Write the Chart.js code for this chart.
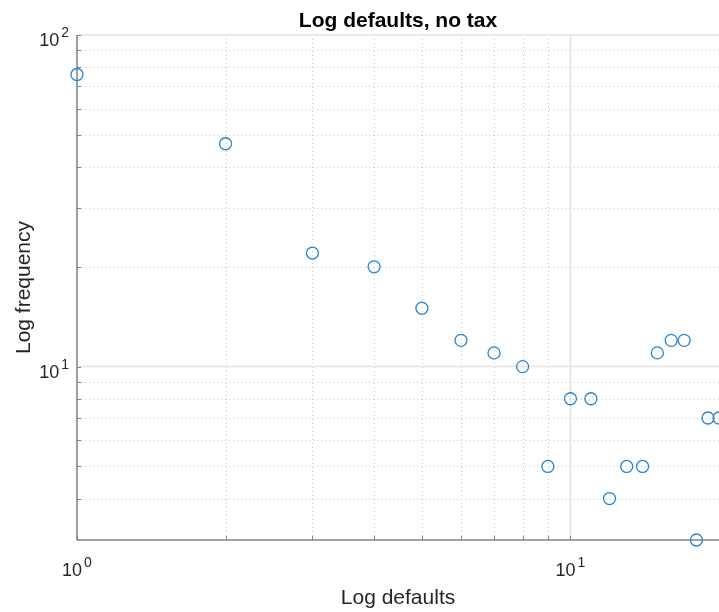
<!DOCTYPE html>
<html>
<head>
<meta charset="utf-8">
<script src="https://cdn.jsdelivr.net/npm/chart.js@4"></script>
<style>
  body { margin: 0; background: #fff; }
  canvas { display: block; }
</style>
</head>
<body>
<canvas id="chart" width="719" height="612"></canvas>
<script>
const defaults = [1, 2, 3, 4, 5, 6, 7, 8, 9, 10, 11, 12, 13, 14, 15, 16, 17, 18, 19, 20];
const frequency = [76, 47, 22, 20, 15, 12, 11, 10, 5, 8, 8, 4, 5, 5, 11, 12, 12, 3, 7, 7];

const xMinorTicks = [2, 3, 4, 5, 6, 7, 8, 9, 20];
const xMajorTicks = [1, 10];
const yMinorTicks = [4, 5, 6, 7, 8, 9, 20, 30, 40, 50, 60, 70, 80, 90];
const yMajorTicks = [10, 100];
const xTickLabels = [{ value: 1, exp: "0" }, { value: 10, exp: "1" }];
const yTickLabels = [{ value: 10, exp: "1" }, { value: 100, exp: "2" }];

const textColor = "#262626";
const fontFamily = "'Liberation Sans', Arial, Helvetica, sans-serif";

// draw a "10^n" label, anchor is "center" (x axis) or "right" (y axis)
function drawPowerLabel(ctx, exp, x, baseline, anchor) {
  ctx.font = "18px " + fontFamily;
  const baseW = ctx.measureText("10").width;
  ctx.font = "14px " + fontFamily;
  const expW = ctx.measureText(exp).width;
  const gap = 2;
  const total = baseW + gap + expW;
  const left = anchor === "center" ? x - total / 2 : x - total;
  ctx.textAlign = "left";
  ctx.textBaseline = "alphabetic";
  ctx.fillStyle = textColor;
  ctx.font = "18px " + fontFamily;
  ctx.fillText("10", left, baseline);
  ctx.font = "14px " + fontFamily;
  ctx.fillText(exp, left + baseW + gap, baseline - 9);
}

const matlabAxes = {
  id: "matlabAxes",
  beforeDatasetsDraw(chart) {
    const { ctx, chartArea: a, scales } = chart;
    const xs = scales.x, ys = scales.y;
    ctx.save();

    // minor grid, dotted
    ctx.strokeStyle = "#cacaca";
    ctx.lineWidth = 1;
    ctx.setLineDash([1, 3]);
    xMinorTicks.forEach((v) => {
      const px = Math.round(xs.getPixelForValue(v)) + 0.5;
      ctx.beginPath(); ctx.moveTo(px, a.top); ctx.lineTo(px, a.bottom); ctx.stroke();
    });
    yMinorTicks.forEach((v) => {
      const py = Math.round(ys.getPixelForValue(v)) + 0.5;
      ctx.beginPath(); ctx.moveTo(a.left, py); ctx.lineTo(a.right, py); ctx.stroke();
    });

    // major grid, solid light
    ctx.setLineDash([]);
    ctx.strokeStyle = "#e3e3e3";
    ctx.lineWidth = 1.5;
    xMajorTicks.forEach((v) => {
      const px = xs.getPixelForValue(v);
      ctx.beginPath(); ctx.moveTo(px, a.top); ctx.lineTo(px, a.bottom); ctx.stroke();
    });
    yMajorTicks.forEach((v) => {
      const py = ys.getPixelForValue(v);
      ctx.beginPath(); ctx.moveTo(a.left, py); ctx.lineTo(a.right, py); ctx.stroke();
    });

    // axis lines
    ctx.strokeStyle = "#858585";
    ctx.lineWidth = 1.5;
    ctx.beginPath();
    ctx.moveTo(a.left, a.top);
    ctx.lineTo(a.left, a.bottom);
    ctx.lineTo(a.right, a.bottom);
    ctx.stroke();

    // inward tick marks
    ctx.lineWidth = 1;
    xMinorTicks.concat(xMajorTicks).forEach((v) => {
      const px = Math.round(xs.getPixelForValue(v)) + 0.5;
      ctx.beginPath(); ctx.moveTo(px, a.bottom); ctx.lineTo(px, a.bottom - 4); ctx.stroke();
    });
    yMinorTicks.concat(yMajorTicks).forEach((v) => {
      const py = Math.round(ys.getPixelForValue(v)) + 0.5;
      ctx.beginPath(); ctx.moveTo(a.left, py); ctx.lineTo(a.left + 4, py); ctx.stroke();
    });

    // tick labels
    xTickLabels.forEach((t) => {
      drawPowerLabel(ctx, t.exp, xs.getPixelForValue(t.value), a.bottom + 36, "center");
    });
    yTickLabels.forEach((t) => {
      drawPowerLabel(ctx, t.exp, a.left - 8, ys.getPixelForValue(t.value) + 11, "right");
    });

    // title and axis labels
    const cx = (a.left + a.right) / 2;
    ctx.textAlign = "center";
    ctx.textBaseline = "alphabetic";
    ctx.font = "bold 21px " + fontFamily;
    ctx.fillStyle = "#000";
    ctx.fillText("Log defaults, no tax", cx, 27);
    ctx.fillStyle = textColor;
    ctx.font = "21px " + fontFamily;
    ctx.fillText("Log defaults", cx, 604);
    ctx.save();
    ctx.translate(30, (a.top + a.bottom) / 2);
    ctx.rotate(-Math.PI / 2);
    ctx.fillText("Log frequency", 0, 0);
    ctx.restore();

    ctx.restore();
  },
};

new Chart(document.getElementById("chart"), {
  type: "scatter",
  data: {
    datasets: [{
      data: defaults.map((d, i) => ({ x: d, y: frequency[i] })),
      pointStyle: "circle",
      pointRadius: 6,
      pointHoverRadius: 6,
      borderWidth: 1.3,
      borderColor: "#2a86cf",
      backgroundColor: "rgba(0,0,0,0)",
      showLine: false,
      clip: false,
    }],
  },
  options: {
    responsive: false,
    animation: false,
    events: [],
    layout: { autoPadding: false, padding: { left: 77, top: 35, right: 0, bottom: 72 } },
    plugins: { legend: { display: false }, tooltip: { enabled: false }, title: { display: false } },
    scales: {
      x: { type: "logarithmic", min: 1, max: 20, display: false },
      y: { type: "logarithmic", min: 3, max: 100, display: false },
    },
  },
  plugins: [matlabAxes],
});
</script>
</body>
</html>
